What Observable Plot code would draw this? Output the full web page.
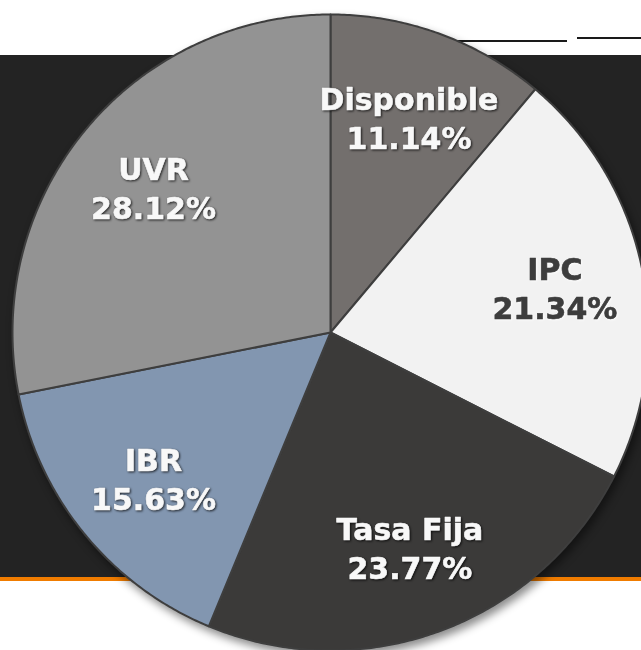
<!DOCTYPE html>
<html>
<head>
<meta charset="utf-8">
<script src="https://cdn.jsdelivr.net/npm/d3@7"></script>
<script src="https://cdn.jsdelivr.net/npm/@observablehq/plot@0.6"></script>
<style>
  html, body { margin: 0; padding: 0; background: #ffffff; overflow: hidden; }
  #wrap { position: relative; width: 641px; height: 650px; overflow: hidden; background: #ffffff; }
  .band { position: absolute; left: 0; top: 55px; width: 641px; height: 522px; background: #232323; }
  .orange { position: absolute; left: 0; top: 577px; width: 641px; height: 4px; background: #f07c00; }
  .rule1 { position: absolute; left: 455px; top: 40px; width: 112px; height: 2px; background: #1a1a1a; }
  .rule2 { position: absolute; left: 577px; top: 37px; width: 64px; height: 2px; background: #1a1a1a; }
  #chart { position: absolute; left: 0; top: 0; }
  #chart svg { overflow: hidden; }
  #chart g[aria-label="line"] { filter: drop-shadow(3px 5px 4px rgba(0,0,0,0.45)); }
  #chart g.lbl-light { filter: drop-shadow(1.5px 1.5px 1px rgba(0,0,0,0.75)); }
  #chart g.lbl-dark { filter: drop-shadow(1px 1px 1px rgba(255,255,255,0.8)); }
</style>
</head>
<body>
<div id="wrap">
  <div class="band"></div>
  <div class="orange"></div>
  <div class="rule1"></div>
  <div class="rule2"></div>
  <div id="chart"></div>
</div>
<script>
// Data
const categories = ["Disponible", "IPC", "Tasa Fija", "IBR", "UVR"];
const shares = [11.14, 21.34, 23.77, 15.63, 28.12];
const labels = ["11.14%", "21.34%", "23.77%", "15.63%", "28.12%"];
const sliceColors = ["#736f6d", "#f2f2f2", "#3b3a39", "#8296b0", "#939393"];

// Geometry (pie in data units, radius R)
const R = 318;
const pieGen = d3.pie().sort(null).value(d => d.value);
const arcs = pieGen(categories.map((c, i) => ({cat: c, value: shares[i], label: labels[i]})));

const slicePts = [];
arcs.forEach(a => {
  const n = Math.max(8, Math.ceil((a.endAngle - a.startAngle) / (Math.PI / 360)));
  slicePts.push({cat: a.data.cat, x: 0, y: 0});
  for (let k = 0; k <= n; k++) {
    const t = a.startAngle + (a.endAngle - a.startAngle) * k / n;
    slicePts.push({cat: a.data.cat, x: R * Math.sin(t), y: R * Math.cos(t)});
  }
  slicePts.push({cat: a.data.cat, x: 0, y: 0});
});

const labelPts = arcs.map(a => {
  const m = (a.startAngle + a.endAngle) / 2;
  const r = 0.72 * R;
  return {cat: a.data.cat, text: a.data.cat + "\n" + a.data.label, x: r * Math.sin(m), y: r * Math.cos(m)};
});

const font = "Verdana, 'DejaVu Sans', sans-serif";

const plot = Plot.plot({
  width: 641,
  height: 650,
  margin: 0,
  style: {background: "transparent", overflow: "hidden"},
  x: {domain: [-330, 311], axis: null},
  y: {domain: [-318, 332], axis: null},
  color: {domain: categories, range: sliceColors},
  marks: [
    Plot.line(slicePts, {x: "x", y: "y", z: "cat", fill: "cat", stroke: "#3e3e3e", strokeWidth: 2, strokeLinejoin: "round", curve: "linear"}),
    Plot.text(labelPts.filter(d => d.cat !== "IPC"), {
      x: "x", y: "y", text: "text", fill: "#f8f8f8", stroke: "#f8f8f8", strokeWidth: 0.6, fontSize: 30, fontWeight: "bold",
      fontFamily: font, lineHeight: 1.3, textAnchor: "middle", lineAnchor: "middle", className: "lbl-light"
    }),
    Plot.text(labelPts.filter(d => d.cat === "IPC"), {
      x: "x", y: "y", text: "text", fill: "#3d3d3d", stroke: "#3d3d3d", strokeWidth: 0.6, fontSize: 30, fontWeight: "bold",
      fontFamily: font, lineHeight: 1.3, textAnchor: "middle", lineAnchor: "middle", className: "lbl-dark"
    })
  ]
});
document.getElementById("chart").appendChild(plot);
</script>
</body>
</html>
